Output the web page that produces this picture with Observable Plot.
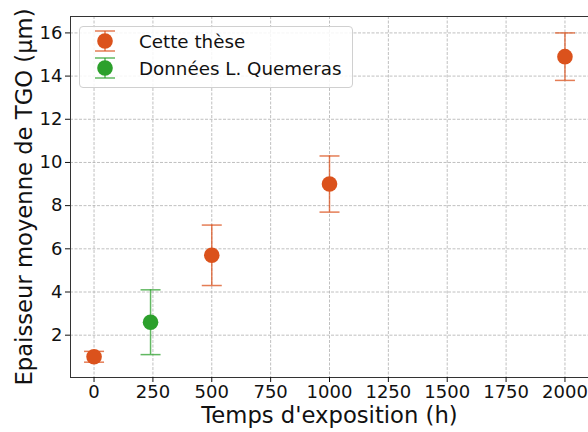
<!DOCTYPE html>
<html>
<head>
<meta charset="utf-8">
<script src="https://cdn.jsdelivr.net/npm/d3@7"></script>
<script src="https://cdn.jsdelivr.net/npm/@observablehq/plot@0.6"></script>
<style>
  body { margin: 0; background: #fff; font-family: "DejaVu Sans", sans-serif; }
  #wrap { position: relative; width: 588px; height: 432px; }
  #legend {
    position: absolute; left: 79px; top: 26px; width: 272px; height: 60px;
    border: 1px solid #d0d0d0; border-radius: 4px; background: rgba(255,255,255,0.85);
    font-family: "DejaVu Sans", sans-serif; font-size: 18.3px; color: #111;
  }
  .row { position: absolute; left: 0; height: 26px; display: flex; align-items: center; }
  .row svg { margin-left: 14px; }
  .row span { margin-left: 23px; white-space: nowrap; }
</style>
</head>
<body>
<div id="wrap"></div>
<script>
// Data
const seriesNames = ["Cette thèse", "Données L. Quemeras"];
const seriesColors = ["#db521c", "#2ca02c"];
const theseTime = [0, 500, 1000, 2000];
const theseThick = [1.0, 5.7, 9.0, 14.9];
const theseErr = [0.25, 1.4, 1.3, 1.1];
const quemTime = [240];
const quemThick = [2.6];
const quemErr = [1.5];
const xTicks = [0, 250, 500, 750, 1000, 1250, 1500, 1750, 2000];
const yTicks = [2, 4, 6, 8, 10, 12, 14, 16];
const xLabel = "Temps d'exposition (h)";
const yLabel = "Epaisseur moyenne de TGO (µm)";

const data = [
  ...theseTime.map((t, i) => ({t, v: theseThick[i], e: theseErr[i], s: seriesNames[0]})),
  ...quemTime.map((t, i) => ({t, v: quemThick[i], e: quemErr[i], s: seriesNames[1]}))
];

const capSymbol = {
  draw(ctx, size) {
    const r = Math.sqrt(size / Math.PI);
    ctx.moveTo(-r, 0);
    ctx.lineTo(r, 0);
  }
};

const chart = Plot.plot({
  width: 588,
  height: 432,
  marginLeft: 70,
  marginRight: 0,
  marginTop: 16,
  marginBottom: 55,
  style: {fontFamily: "DejaVu Sans, sans-serif", background: "white"},
  x: {domain: [-100, 2100]},
  y: {domain: [0.04, 16.76]},
  color: {domain: seriesNames, range: seriesColors},
  marks: [
    Plot.gridX(xTicks, {stroke: "#b0b0b0", strokeOpacity: 1, strokeDasharray: "3,1.5", strokeWidth: 0.8}),
    Plot.gridY(yTicks, {stroke: "#b0b0b0", strokeOpacity: 1, strokeDasharray: "3,1.5", strokeWidth: 0.8}),
    Plot.frame({stroke: "#333", strokeWidth: 1}),
    Plot.axisX({ticks: xTicks, tickFormat: d => String(d), tickSize: 5, tickPadding: 3, fontSize: 18, label: null, color: "#111"}),
    Plot.axisY({ticks: yTicks, tickFormat: d => String(d), tickSize: 5, tickPadding: 3, fontSize: 18, label: null, color: "#111"}),
    Plot.ruleX(data, {x: "t", y1: d => d.v - d.e, y2: d => d.v + d.e, stroke: "s", strokeWidth: 1.5, strokeOpacity: 0.75}),
    Plot.dot(data, {x: "t", y: d => d.v + d.e, symbol: capSymbol, r: 10, stroke: "s", strokeWidth: 1.5, strokeOpacity: 0.75}),
    Plot.dot(data, {x: "t", y: d => d.v - d.e, symbol: capSymbol, r: 10, stroke: "s", strokeWidth: 1.5, strokeOpacity: 0.75}),
    Plot.dot(data, {x: "t", y: "v", fill: "s", r: 7.8}),
    Plot.text([xLabel], {frameAnchor: "bottom", dy: 38, fontSize: 22.7, fill: "#111", textAnchor: "middle", lineAnchor: "middle"}),
    Plot.text([yLabel], {frameAnchor: "left", dx: -46, rotate: -90, fontSize: 22.7, fill: "#111", textAnchor: "middle", lineAnchor: "middle"})
  ]
});

const wrap = document.getElementById("wrap");
wrap.appendChild(chart);

const legend = document.createElement("div");
legend.id = "legend";
seriesNames.forEach((name, i) => {
  const row = document.createElement("div");
  row.className = "row";
  row.style.top = (1 + i * 27) + "px";
  const c = seriesColors[i];
  row.innerHTML = `<svg width="22" height="24" viewBox="0 0 22 24">
    <line x1="11" y1="2" x2="11" y2="22" stroke="${c}" stroke-width="1.5" stroke-opacity="0.75"/>
    <line x1="1" y1="2" x2="21" y2="2" stroke="${c}" stroke-width="1.5" stroke-opacity="0.75"/>
    <line x1="1" y1="22" x2="21" y2="22" stroke="${c}" stroke-width="1.5" stroke-opacity="0.75"/>
    <circle cx="11" cy="12" r="7.8" fill="${c}"/></svg><span>${name}</span>`;
  legend.appendChild(row);
});
wrap.appendChild(legend);
</script>
</body>
</html>
